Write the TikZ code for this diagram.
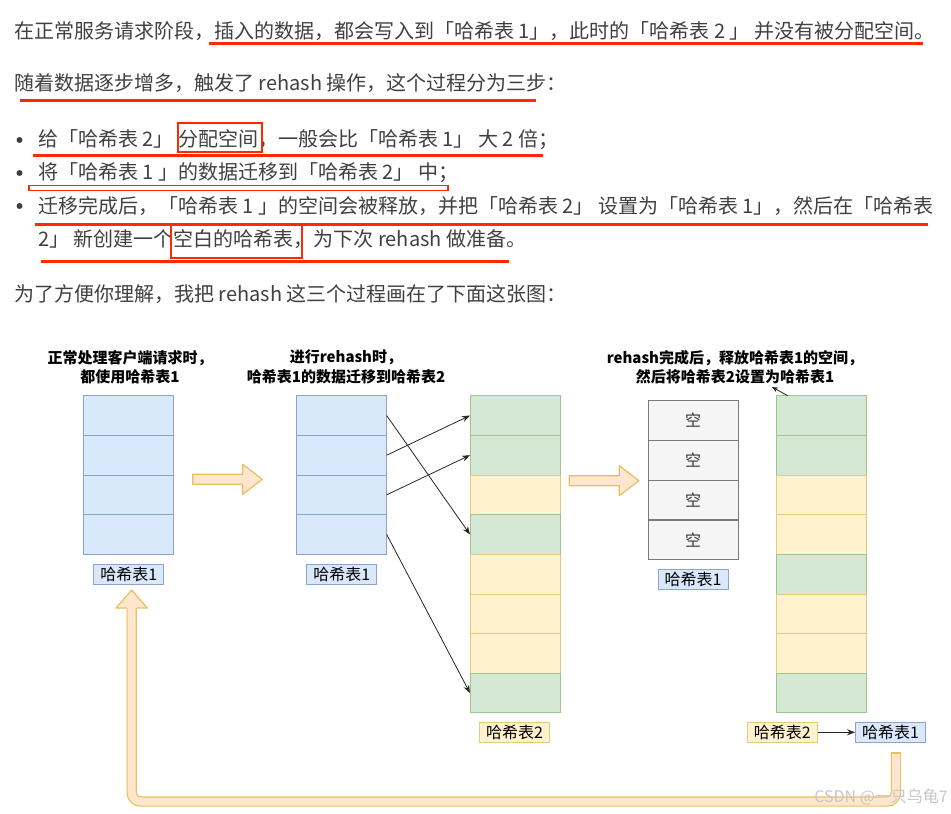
\documentclass[tikz,border=0pt]{standalone}
\usepackage{fontspec}
\setmainfont{Noto Sans CJK SC}
\usetikzlibrary{arrows.meta,positioning,calc}
\definecolor{bodytext}{HTML}{404040}
\definecolor{markred}{HTML}{FF2A00}
\definecolor{tblue}{HTML}{DAE8FC}
\definecolor{tblueline}{HTML}{8AA4CC}
\definecolor{tgreen}{HTML}{D5E8D4}
\definecolor{tgreenline}{HTML}{9DC68C}
\definecolor{tyellow}{HTML}{FFF2CC}
\definecolor{tyellowline}{HTML}{E2CB7E}
\definecolor{tgrey}{HTML}{F5F5F5}
\definecolor{tgreyline}{HTML}{7A7A7A}
\definecolor{fatfill}{HTML}{FFE6CC}
\definecolor{fatline}{HTML}{E9BE62}
\tikzset{
  para/.style       = {anchor=west, inner sep=0pt, text=bodytext,
                       font=\fontsize{20}{20}\selectfont},
  cell/.style       = {minimum width=90pt, minimum height=39.65pt, inner sep=0pt,
                       outer sep=0pt, line width=0.9pt},
  bluecell/.style   = {cell, draw=tblueline, fill=tblue},
  greencell/.style  = {cell, draw=tgreenline, fill=tgreen},
  yellowcell/.style = {cell, draw=tyellowline, fill=tyellow},
  greycell/.style   = {cell, draw=tgreyline, fill=tgrey, text=black!80,
                       font=\fontsize{16}{16}\selectfont},
  tag/.style        = {minimum width=70pt, minimum height=20pt, inner sep=0pt,
                       line width=0.9pt, font=\fontsize{16}{16}\selectfont},
  bluetag/.style    = {tag, draw=tblueline, fill=tblue},
  yellowtag/.style  = {tag, draw=tyellowline, fill=tyellow},
  caption/.style    = {align=center, inner sep=0pt,
                       font=\fontsize{15}{19.5}\selectfont\bfseries},
  mig/.style        = {-{Stealth[length=8pt,width=6pt]}, line width=0.8pt, draw=black!85},
  fat/.style        = {draw=fatline, fill=fatfill, line width=1.2pt, line join=round},
  redline/.style    = {draw=markred, line width=3pt},
  redbox/.style     = {draw=markred, line width=2.4pt},
}
\newcommand{\fatarrow}[1]{%
  \draw[fat] (#1) ++(0,-5) -- ++(50,0) -- ++(0,-10) -- ++(19.6,15)
    -- ++(-19.6,15) -- ++(0,-10) -- ++(-50,0) -- cycle;}

\begin{document}
\begin{tikzpicture}[x=1pt,y=-1pt]
  \useasboundingbox (0,0) rectangle (951,814);
  \fill[white] (0,0) rectangle (951,814);
  % article text
  \node[para] (l1) at (14,31) {在正常服务请求阶段，插入的数据，都会写入到「哈希表 1」，此时的「哈希表 2 」 并没有被分配空间。};
  \node[para] (l2) at (14,83.5) {随着数据逐步增多，触发了 rehash 操作，这个过程分为三步：};
  \node[para] (s1) at (38,140) {给「哈希表 2」 分配空间，一般会比「哈希表 1」 大 2 倍；};
  \node[para] (s2) at (38,173) {将「哈希表 1 」的数据迁移到「哈希表 2」 中；};
  \node[para] (s3) at (38,206) {迁移完成后，「哈希表 1 」的空间会被释放，并把「哈希表 2」 设置为「哈希表 1」，然后在「哈希表};
  \node[para] (s3b) at (38,239) {2」 新创建一个空白的哈希表，为下次 rehash 做准备。};
  \node[para] (l4) at (14,294) {为了方便你理解，我把 rehash 这三个过程画在了下面这张图：};
  \foreach \y in {140,173,206}
    \fill[bodytext] (19.5,\y) circle (3);
  % red marks
  \draw[redline] (209,43.7) -- (923,43.7);
  \draw[redline] (20,100) -- (536,100);
  \draw[redbox] (178,122.7) rectangle (262,152);
  \draw[redline] (33,155) -- (543,155);
  \draw[draw=markred, line width=1.3pt] (29,185.5) rectangle (448,190.5);
  \draw[redline] (35,224) -- (928,224);
  \draw[redbox] (171,225) rectangle (302,258);
  \draw[redline] (41,261) -- (509,261);
  % captions
  \node[caption] (cap1) at (130,367) {正常处理客户端请求时，\\都使用哈希表1};
  \node[caption] (cap2) at (346,367) {进行rehash时，\\哈希表1的数据迁移到哈希表2};
  \node[caption] (cap3) at (735,367) {rehash完成后，释放哈希表1的空间，\\然后将哈希表2设置为哈希表1};
  % tables
  \foreach \i in {1,...,4} {
    \node[bluecell] (a\i) at (128.5,{395.7+39.65*(\i-0.5)}) {};
    \node[bluecell] (b\i) at (341.7,{395.7+39.65*(\i-0.5)}) {};
    \node[greycell] (d\i) at (693,{400.7+39.75*(\i-0.5)}) {空};
  }
  \foreach \i/\s in {1/greencell,2/greencell,3/yellowcell,4/greencell,
                     5/yellowcell,6/yellowcell,7/yellowcell,8/greencell}
    \node[\s] (c\i) at (515,{395.7+39.65*(\i-0.5)}) {};
  \foreach \i/\s in {1/greencell,2/greencell,3/yellowcell,4/yellowcell,
                     5/greencell,6/yellowcell,7/yellowcell,8/greencell}
    \node[\s] (e\i) at (821.7,{395.7+39.65*(\i-0.5)}) {};
  % table names
  \node[bluetag] (ta) at (128.7,574.2) {哈希表1};
  \node[bluetag] (tb) at (341.7,574.2) {哈希表1};
  \node[yellowtag] (tc) at (514.5,732.5) {哈希表2};
  \node[bluetag] (td) at (693,579) {哈希表1};
  \node[yellowtag] (te) at (782.3,732.3) {哈希表2};
  \node[bluetag] (tf) at (890.5,732.3) {哈希表1};
  \draw[mig] (te) -- (tf);
  % migration
  \draw[mig] (b1.east) -- (c4.west);
  \draw[mig] (b2.east) -- (c1.west);
  \draw[mig] (b3.east) -- (c2.west);
  \draw[mig] (b4.east) -- (c8.west);
  \coordinate (settip) at (772,387);
  \draw[mig, -{Stealth[length=6pt,width=5pt]}] ([xshift=11pt]e1.north west) -- (settip);
  % step arrows
  \coordinate (fa1) at (192.7,479.3);
  \coordinate (fa2) at (569.3,480.7);
  \fatarrow{fa1}
  \fatarrow{fa2}
  % back to the start
  \coordinate (rtop) at (896,753);
  \coordinate (rtip) at (131.7,590);
  \draw[fatline, double=fatfill, double distance=8pt, line width=1.2pt, rounded corners=9pt]
    (rtop) -- (896,801.5) -- (131.7,801.5) -- (131.7,608);
  \draw[fatline, line width=1.2pt] (890.8,753) -- (901.2,753);
  \filldraw[fat] (126.5,608) -- (116,608) -- (rtip) -- (147.3,608) -- (136.9,608);
  \node[text=black!22, font=\fontsize{16}{16}\selectfont, anchor=east, inner sep=0pt] (mark)
    at (948,797) {CSDN @一只乌龟7};
\end{tikzpicture}
\end{document}
